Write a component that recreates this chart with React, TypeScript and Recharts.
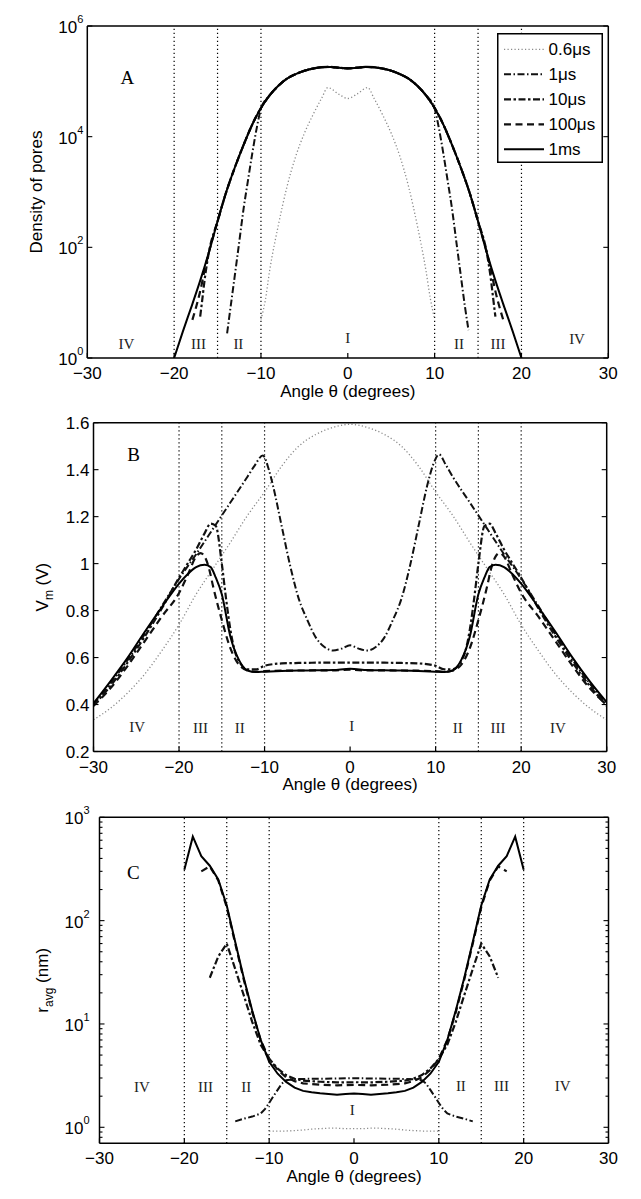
import React from "react";
import { LineChart, Line, XAxis, YAxis, ReferenceLine, ReferenceDot, Legend } from "recharts";

const SANS = "'Liberation Sans', Arial, Helvetica, sans-serif";
const SERIF = "'Liberation Serif', 'Times New Roman', Times, serif";
const W = 641;

// ---------- shared ----------
const seriesNames = ["0.6\u03bcs", "1\u03bcs", "10\u03bcs", "100\u03bcs", "1ms"];
const xTicks = [-30, -20, -10, 0, 10, 20, 30];
const regionBounds = [-20, -15, -10, 10, 15, 20];
const regionNames = ["IV", "III", "II", "I", "II", "III", "IV"];

// ---------- panel A: density of pores ----------
const thetaCoreA = [-9, -8, -7, -6, -5, -4, -3, -2, -1, 0, 1, 2, 3, 4, 5, 6, 7, 8, 9];
const densCoreA = [56000, 83000, 112000, 135000, 155000, 170000, 180000, 182000, 176000, 172000, 176000, 182000, 180000, 170000, 155000, 135000, 112000, 83000, 56000];

const thetaA06 = [-10, -9.5, -9, -8, -7, -6, -5, -4, -3, -2.3, -1, 0, 1, 2.3, 3, 4, 5, 6, 7, 8, 9, 9.5, 10];
const densA06 = [5, 11, 38, 250, 1250, 4400, 11500, 25000, 50000, 77000, 58000, 49000, 58000, 77000, 50000, 25000, 11500, 4400, 1250, 250, 38, 12, 5];

const thetaA1usL = [-13.9, -13.5, -13, -12.5, -12, -11.5, -11, -10.5, -10];
const densA1usL = [2.8, 8.3, 32, 126, 500, 1600, 5000, 14000, 32000];
const thetaA1usR = [10, 10.5, 11, 11.5, 12, 12.5, 13, 13.5, 13.9];
const densA1usR = [32000, 14000, 5000, 1600, 500, 126, 32, 8.3, 3.2];

const thetaA10usL = [-17, -16.8, -16.5, -16, -15, -14, -13, -12, -11, -10];
const densA10usL = [5.6, 10, 25, 81, 295, 1000, 2800, 7100, 16600, 33000];
const thetaA10usR = [10, 11, 12, 13, 14, 15, 16, 16.5, 16.8, 17];
const densA10usR = [33000, 16600, 7100, 2800, 1000, 295, 81, 25, 10, 5.6];

const thetaA100usL = [-17.9, -17.5, -17, -16.5, -16, -15, -14, -13, -12, -11, -10];
const densA100usL = [4.9, 8, 16, 38, 81, 295, 1000, 2800, 7100, 16600, 33000];
const thetaA100usR = [10, 11, 12, 13, 14, 15, 16, 16.5, 17, 17.5, 17.9];
const densA100usR = [33000, 16600, 7100, 2800, 1000, 295, 81, 38, 16, 8, 4.9];

const thetaA1msL = [-20, -19, -18, -17, -16, -15, -14, -13, -12, -11, -10];
const densA1msL = [1, 3, 8.5, 25, 81, 295, 1000, 2800, 7100, 16600, 33000];
const thetaA1msR = [10, 11, 12, 13, 14, 15, 16, 17, 18, 19, 20];
const densA1msR = [33000, 16600, 7100, 2800, 1000, 295, 81, 25, 8.5, 3, 1];

const yTicksA = [1, 100, 10000, 1000000];
const regionThetaA = [-25.5, -17.2, -12.6, 0, 12.8, 17.3, 26.4];
const regionYA = [1.8, 1.8, 1.8, 2.3, 1.8, 1.8, 2.2];

// ---------- panel B: membrane voltage ----------
const thetaB06 = [-30, -28, -26, -24, -22, -20, -18, -16, -14, -12, -10, -8, -6, -4, -2, 0, 2, 4, 6, 8, 10, 12, 14, 16, 18, 20, 22, 24, 26, 28, 30];
const vmB06 = [0.335, 0.385, 0.45, 0.53, 0.63, 0.74, 0.87, 0.98, 1.09, 1.205, 1.305, 1.415, 1.5, 1.55, 1.58, 1.593, 1.58, 1.55, 1.5, 1.415, 1.305, 1.205, 1.09, 0.98, 0.87, 0.74, 0.63, 0.53, 0.45, 0.385, 0.335];

const thetaB1us = [-30, -28, -26, -24, -22, -20, -18, -16, -14, -12, -11.2, -10.2, -9.5, -9, -8, -7, -6, -5, -4, -3, -2, -1, 0, 1, 2, 3, 4, 5, 6, 7, 8, 9, 9.7, 10.4, 11.2, 12, 14, 16, 18, 20, 22, 24, 26, 28, 30];
const vmB1us = [0.40, 0.49, 0.59, 0.70, 0.82, 0.935, 1.04, 1.15, 1.26, 1.37, 1.415, 1.46, 1.40, 1.33, 1.16, 0.99, 0.85, 0.76, 0.685, 0.645, 0.63, 0.638, 0.652, 0.638, 0.63, 0.645, 0.685, 0.76, 0.85, 0.99, 1.16, 1.33, 1.42, 1.465, 1.42, 1.37, 1.26, 1.15, 1.04, 0.935, 0.82, 0.70, 0.59, 0.49, 0.40];

const thetaB10us = [-30, -28, -26, -24, -22, -20, -19, -18, -17, -16.3, -15.7, -15, -14.5, -14, -13.5, -13, -12, -11, -10, -8, -6, -4, -2, 0, 2, 4, 6, 8, 10, 11, 12, 13, 13.5, 14, 14.5, 15, 15.7, 16.3, 17, 18, 19, 20, 22, 24, 26, 28, 30];
const vmB10us = [0.395, 0.48, 0.58, 0.69, 0.81, 0.94, 1.0, 1.06, 1.13, 1.17, 1.16, 1.0, 0.85, 0.72, 0.63, 0.585, 0.55, 0.55, 0.565, 0.575, 0.577, 0.578, 0.578, 0.578, 0.578, 0.578, 0.577, 0.575, 0.565, 0.55, 0.55, 0.585, 0.63, 0.72, 0.85, 1.0, 1.16, 1.17, 1.13, 1.06, 1.0, 0.94, 0.81, 0.69, 0.58, 0.48, 0.395];

const thetaB100us = [-30, -28, -26, -24, -22, -20, -19, -18, -17.5, -17, -16.5, -16, -15, -14, -13, -12, -11, -10, -8, -5, -2, 0, 2, 5, 8, 10, 11, 12, 13, 14, 15, 16, 16.5, 17, 17.5, 18, 19, 20, 22, 24, 26, 28, 30];
const vmB100us = [0.395, 0.47, 0.565, 0.67, 0.775, 0.875, 0.95, 1.03, 1.045, 1.03, 0.98, 0.9, 0.76, 0.64, 0.57, 0.545, 0.54, 0.542, 0.544, 0.545, 0.545, 0.548, 0.545, 0.545, 0.544, 0.542, 0.54, 0.545, 0.57, 0.64, 0.76, 0.9, 0.98, 1.03, 1.045, 1.03, 0.95, 0.875, 0.775, 0.67, 0.565, 0.47, 0.40];

const thetaB1ms = [-30, -28, -26, -24, -22, -20, -19, -18, -17, -16.3, -15.7, -15, -14, -13, -12, -11, -10, -8, -5, -2, 0, 2, 5, 8, 10, 11, 12, 13, 14, 15, 15.7, 16.3, 17, 18, 19, 20, 22, 24, 26, 28, 30];
const vmB1ms = [0.405, 0.50, 0.60, 0.71, 0.815, 0.915, 0.955, 0.985, 0.995, 0.985, 0.94, 0.87, 0.69, 0.59, 0.545, 0.538, 0.54, 0.543, 0.545, 0.547, 0.552, 0.547, 0.545, 0.543, 0.54, 0.538, 0.545, 0.59, 0.69, 0.87, 0.94, 0.985, 0.995, 0.985, 0.955, 0.915, 0.815, 0.71, 0.60, 0.50, 0.41];

const yTicksB = [0.2, 0.4, 0.6, 0.8, 1, 1.2, 1.4, 1.6];
const regionThetaB = [-24.9, -17.5, -12.9, 0.2, 12.6, 17.3, 24.3];
const regionYB = [0.305, 0.3, 0.3, 0.31, 0.3, 0.3, 0.3];

// ---------- panel C: average pore radius ----------
const thetaC06 = [-10, -9, -8, -7, -6, -5, -4, -3, -2, -1, 0, 1, 2, 3, 4, 5, 6, 7, 8, 9, 10];
const rC06 = [0.92, 0.92, 0.92, 0.93, 0.94, 0.96, 0.97, 0.98, 0.98, 0.97, 0.97, 0.97, 0.98, 0.98, 0.97, 0.96, 0.94, 0.93, 0.92, 0.92, 0.92];

const thetaC1us = [-14, -13, -12, -11, -10.5, -10, -9.5, -9, -8.5, -8, -7, -6, -4, -2, 0, 2, 4, 6, 7, 8, 8.5, 9, 9.5, 10, 10.5, 11, 12, 13, 14];
const rC1us = [1.14, 1.21, 1.27, 1.36, 1.5, 1.72, 2.0, 2.3, 2.65, 2.85, 2.92, 2.94, 2.95, 2.97, 2.98, 2.97, 2.95, 2.94, 2.92, 2.85, 2.65, 2.3, 2.0, 1.72, 1.5, 1.36, 1.27, 1.21, 1.14];

const thetaC10us = [-17, -16, -15, -14, -13, -12, -11, -10, -9, -8, -7, -6, -4, -2, 0, 2, 4, 6, 7, 8, 9, 10, 11, 12, 13, 14, 15, 16, 17];
const rC10us = [28, 45, 60, 34, 19, 10.5, 6.3, 4.6, 3.7, 3.2, 2.95, 2.83, 2.76, 2.72, 2.73, 2.72, 2.76, 2.83, 2.95, 3.2, 3.7, 4.6, 6.3, 10.5, 19, 34, 60, 45, 28];

const thetaC100us = [-18, -17, -16, -15, -14, -13, -12, -11, -10, -9, -8, -7, -6, -4, -2, 0, 2, 4, 6, 7, 8, 9, 10, 11, 12, 13, 14, 15, 16, 17, 18];
const rC100us = [300, 335, 245, 135, 60, 27, 13, 7, 4.6, 3.6, 3.05, 2.8, 2.66, 2.58, 2.55, 2.57, 2.55, 2.58, 2.66, 2.8, 3.05, 3.6, 4.6, 7, 13, 27, 60, 135, 245, 335, 300];

const thetaC1ms = [-20, -19, -18, -17, -16, -15, -14, -13, -12, -11, -10, -9, -8, -7, -6, -5, -4, -3, -2, -1, 0, 1, 2, 3, 4, 5, 6, 7, 8, 9, 10, 11, 12, 13, 14, 15, 16, 17, 18, 19, 20];
const rC1ms = [310, 650, 420, 340, 250, 140, 62, 28, 13.5, 7, 4.3, 3.3, 2.75, 2.42, 2.25, 2.18, 2.13, 2.1, 2.07, 2.1, 2.12, 2.1, 2.07, 2.1, 2.13, 2.18, 2.25, 2.42, 2.75, 3.3, 4.3, 7, 13.5, 28, 62, 140, 250, 340, 420, 650, 310];

const yTicksC = [0.8, 0.9, 1, 2, 3, 4, 5, 6, 7, 8, 9, 10, 20, 30, 40, 50, 60, 70, 80, 90, 100, 200, 300, 400, 500, 600, 700, 800, 900, 1000];
const regionThetaC = [-25, -17.5, -12.7, -0.2, 12.6, 17.4, 24.6];
const regionYC = [2.45, 2.45, 2.45, 1.47, 2.5, 2.5, 2.55];

// ---------- helpers ----------
type Pt = { t: number; v: number };
const zip = (t: number[], v: number[]): Pt[] => t.map((x, i) => ({ t: x, v: v[i] }));

const seriesA: Pt[][] = [
  zip(thetaA06, densA06),
  zip([...thetaA1usL, ...thetaCoreA, ...thetaA1usR], [...densA1usL, ...densCoreA, ...densA1usR]),
  zip([...thetaA10usL, ...thetaCoreA, ...thetaA10usR], [...densA10usL, ...densCoreA, ...densA10usR]),
  zip([...thetaA100usL, ...thetaCoreA, ...thetaA100usR], [...densA100usL, ...densCoreA, ...densA100usR]),
  zip([...thetaA1msL, ...thetaCoreA, ...thetaA1msR], [...densA1msL, ...densCoreA, ...densA1msR]),
];
const seriesB: Pt[][] = [
  zip(thetaB06, vmB06),
  zip(thetaB1us, vmB1us),
  zip(thetaB10us, vmB10us),
  zip(thetaB100us, vmB100us),
  zip(thetaB1ms, vmB1ms),
];
const seriesC: Pt[][] = [
  zip(thetaC06, rC06),
  zip(thetaC1us, rC1us),
  zip(thetaC10us, rC10us),
  zip(thetaC100us, rC100us),
  zip(thetaC1ms, rC1ms),
];

const STYLES = [
  { stroke: "#8a8a8a", strokeWidth: 1.3, strokeDasharray: "1.2 2.3" },
  { stroke: "#111", strokeWidth: 2, strokeDasharray: "7 2.5 1.5 2.5" },
  { stroke: "#111", strokeWidth: 2.2, strokeDasharray: "7 2.5 2.5 2.5" },
  { stroke: "#111", strokeWidth: 2.2, strokeDasharray: "7 4.5" },
  { stroke: "#000", strokeWidth: 2, strokeDasharray: undefined as string | undefined },
];

const fmtAngle = (v: number) => (v < 0 ? `\u2212${Math.abs(v)}` : String(v));

function BottomTick(props: any) {
  const { x, y, payload } = props;
  return (
    <g>
      <line x1={x} x2={x} y1={y} y2={y - 5} stroke="#000" strokeWidth={1.2} />
      <text x={x} y={y + 21} textAnchor="middle" fontFamily={SANS} fontSize={17} fill="#000">
        {fmtAngle(payload.value)}
      </text>
    </g>
  );
}

function TopTick(props: any) {
  const { x, y } = props;
  return <line x1={x} x2={x} y1={y} y2={y + 5} stroke="#000" strokeWidth={1.2} />;
}

const isDecade = (v: number) => Math.abs(Math.log10(v) - Math.round(Math.log10(v))) < 1e-6;

const makeLeftTick = (log: boolean, gap: number) => (props: any) => {
  const { x, y, payload } = props;
  const v = payload.value as number;
  if (log) {
    const major = isDecade(v);
    return (
      <g>
        <line x1={x} x2={x + (major ? 5 : 3)} y1={y} y2={y} stroke="#000" strokeWidth={1.1} />
        {major && (
          <text x={x - gap} y={y + 7} textAnchor="end" fontFamily={SANS} fontSize={17} fill="#000">
            10
            <tspan dy={-10} fontSize={11}>
              {Math.round(Math.log10(v))}
            </tspan>
          </text>
        )}
      </g>
    );
  }
  return (
    <g>
      <line x1={x} x2={x + 5} y1={y} y2={y} stroke="#000" strokeWidth={1.1} />
      <text x={x - gap} y={y + 6} textAnchor="end" fontFamily={SANS} fontSize={17} fill="#000">
        {String(+v.toFixed(1))}
      </text>
    </g>
  );
};

const makeRightTick = (log: boolean) => (props: any) => {
  const { x, y, payload } = props;
  const len = log && !isDecade(payload.value) ? 3 : 5;
  return <line x1={x} x2={x - len} y1={y} y2={y} stroke="#000" strokeWidth={1.1} />;
};

function LegendBox(props: any) {
  const items = [...(props.payload ?? [])].sort(
    (a: any, b: any) => seriesNames.indexOf(a.value) - seriesNames.indexOf(b.value)
  );
  return (
    <svg width={106} height={130} style={{ display: "block" }}>
      <rect x={0.75} y={0.75} width={104.5} height={128.5} fill="#fff" stroke="#000" strokeWidth={1.5} />
      {items.map((it: any, i: number) => {
        const st = STYLES[seriesNames.indexOf(it.value)] ?? STYLES[i];
        const y = 16.3 + i * 25;
        return (
          <g key={it.value}>
            <line x1={7} x2={47} y1={y} y2={y} stroke={st.stroke} strokeWidth={st.strokeWidth} strokeDasharray={st.strokeDasharray} />
            <text x={51.5} y={y + 6} fontFamily={SANS} fontSize={17} fill="#000">
              {it.value}
            </text>
          </g>
        );
      })}
    </svg>
  );
}

type PanelProps = {
  top: number;
  height: number;
  box: { l: number; r: number; t: number; b: number };
  log: boolean;
  yDomain: [number, number];
  yTicks: number[];
  tickGap: number;
  series: Pt[][];
  curve: "monotone" | "linear";
  yTitle: React.ReactNode;
  yTitleX: number;
  letter: string;
  letterAt: [number, number];
  regionT: number[];
  regionY: number[];
  legend?: boolean;
};

function Panel(p: PanelProps) {
  const { box } = p;
  const margin = { top: box.t - 1, left: box.l - 1, right: W - box.r - 1, bottom: p.height - box.b - 1 };
  const axisLine = { stroke: "#000", strokeWidth: 1.5 };
  const cy = (box.t + box.b) / 2;
  const yScale = p.log ? "log" : "linear";
  return (
    <div style={{ position: "absolute", left: 0, top: p.top }}>
      <LineChart width={W} height={p.height} margin={margin}>
        <XAxis
          dataKey="t"
          type="number"
          domain={[-30, 30]}
          ticks={xTicks}
          interval={0}
          allowDataOverflow
          height={1}
          tickSize={0}
          tickMargin={0}
          tickLine={false}
          axisLine={axisLine}
          tick={BottomTick}
          label={{ value: "Angle \u03b8 (degrees)", position: "bottom", offset: 25.5, fontFamily: SANS, fontSize: 17, fill: "#000" }}
        />
        <XAxis
          xAxisId="top"
          orientation="top"
          type="number"
          domain={[-30, 30]}
          ticks={xTicks}
          interval={0}
          allowDataOverflow
          height={1}
          tickSize={0}
          tickMargin={0}
          tickLine={false}
          axisLine={axisLine}
          tick={TopTick}
        />
        <YAxis
          type="number"
          scale={yScale}
          domain={p.yDomain}
          ticks={p.yTicks}
          interval={0}
          allowDataOverflow
          width={1}
          tickSize={0}
          tickMargin={0}
          tickLine={false}
          axisLine={axisLine}
          tick={makeLeftTick(p.log, p.tickGap)}
          label={() => (
            <text
              transform={`translate(${p.yTitleX},${cy}) rotate(-90)`}
              textAnchor="middle"
              fontFamily={SANS}
              fontSize={17}
              fill="#000"
            >
              {p.yTitle}
            </text>
          )}
        />
        <YAxis
          yAxisId="right"
          orientation="right"
          type="number"
          scale={yScale}
          domain={p.yDomain}
          ticks={p.yTicks}
          interval={0}
          allowDataOverflow
          width={1}
          tickSize={0}
          tickMargin={0}
          tickLine={false}
          axisLine={axisLine}
          tick={makeRightTick(p.log)}
        />
        {regionBounds.map((b) => (
          <ReferenceLine key={b} x={b} stroke="#000" strokeWidth={1.2} strokeDasharray="1.2 2.8" />
        ))}
        {p.series.map((d, i) => (
          <Line
            key={seriesNames[i]}
            data={d}
            dataKey="v"
            name={seriesNames[i]}
            type={p.curve}
            dot={false}
            activeDot={false}
            isAnimationActive={false}
            {...STYLES[i]}
          />
        ))}
        {regionNames.map((n, i) => (
          <ReferenceDot
            key={`r${i}`}
            x={p.regionT[i]}
            y={p.regionY[i]}
            r={0}
            fill="none"
            stroke="none"
            label={{ value: n, position: "center", fontFamily: SERIF, fontSize: 15, fill: "#222" }}
          />
        ))}
        <ReferenceDot
          x={p.letterAt[0]}
          y={p.letterAt[1]}
          r={0}
          fill="none"
          stroke="none"
          label={{ value: p.letter, position: "center", fontFamily: SERIF, fontSize: 19, fill: "#000" }}
        />
        {p.legend && (
          <Legend
            layout="vertical"
            align="center"
            verticalAlign="middle"
            wrapperStyle={{ left: 496.7, top: 32.7, width: 106, height: 130 }}
            content={LegendBox}
          />
        )}
      </LineChart>
    </div>
  );
}

export default function App() {
  return (
    <div style={{ position: "relative", width: W, height: 1199, margin: -8, background: "#fff", overflow: "hidden" }}>
      <div
        style={{
          position: "absolute",
          left: 7,
          top: 3,
          width: 634,
          height: 1196,
          border: "1px solid #555",
          boxSizing: "border-box",
        }}
      />
      <Panel
        top={0}
        height={400}
        box={{ l: 87.3, r: 608.3, t: 26, b: 358 }}
        log
        yDomain={[1, 1000000]}
        yTicks={yTicksA}
        tickGap={4}
        series={seriesA}
        curve="monotone"
        yTitle="Density of pores"
        yTitleX={41.5}
        letter="A"
        letterAt={[-25.4, 117000]}
        regionT={regionThetaA}
        regionY={regionYA}
        legend
      />
      <Panel
        top={380}
        height={420}
        box={{ l: 93.5, r: 606.7, t: 42.7, b: 371.5 }}
        log={false}
        yDomain={[0.2, 1.6]}
        yTicks={yTicksB}
        tickGap={4}
        series={seriesB}
        curve="monotone"
        yTitle={
          <>
            V<tspan dy={5} fontSize={12}>m</tspan>
            <tspan dy={-5}> (V)</tspan>
          </>
        }
        yTitleX={48}
        letter="B"
        letterAt={[-25.3, 1.466]}
        regionT={regionThetaB}
        regionY={regionYB}
      />
      <Panel
        top={790}
        height={409}
        box={{ l: 99.5, r: 608.5, t: 27.3, b: 353.3 }}
        log
        yDomain={[0.7, 1000]}
        yTicks={yTicksC}
        tickGap={10}
        series={seriesC}
        curve="linear"
        yTitle={
          <>
            r<tspan dy={5} fontSize={12}>avg</tspan>
            <tspan dy={-5}> (nm)</tspan>
          </>
        }
        yTitleX={48}
        letter="C"
        letterAt={[-26, 295]}
        regionT={regionThetaC}
        regionY={regionYC}
      />
    </div>
  );
}
